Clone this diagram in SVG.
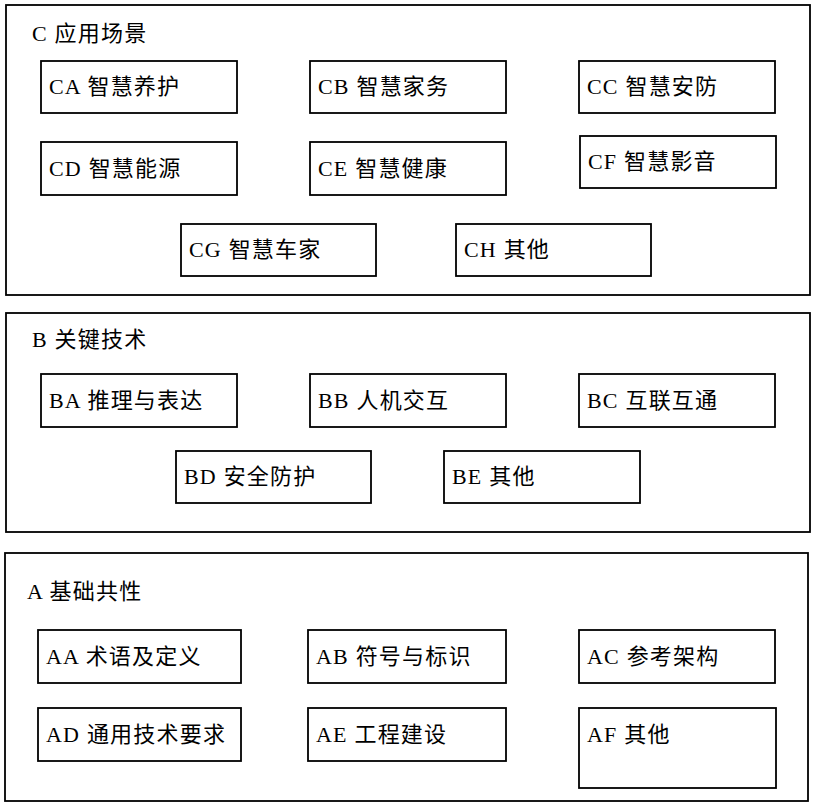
<svg xmlns="http://www.w3.org/2000/svg" width="816" height="807" viewBox="0 0 816 807">
<style>
rect{fill:#fff;stroke:#000;stroke-width:1.8}
text{font-family:"Liberation Serif","Noto Sans CJK SC",serif;font-size:22px;letter-spacing:1.2px;fill:#000}
</style>
<rect x="0" y="0" width="816" height="807" style="stroke:none"/>
<g id="C"><rect x="6" y="5" width="804" height="290"/><text x="32" y="41">C 应用场景</text></g>
<g id="CA"><rect x="41" y="61" width="196" height="52"/><text x="49" y="94">CA 智慧养护</text></g>
<g id="CB"><rect x="310" y="61" width="196" height="52"/><text x="318" y="94">CB 智慧家务</text></g>
<g id="CC"><rect x="579" y="61" width="196" height="52"/><text x="587" y="94">CC 智慧安防</text></g>
<g id="CD"><rect x="41" y="142" width="196" height="53"/><text x="49" y="176">CD 智慧能源</text></g>
<g id="CE"><rect x="310" y="142" width="196" height="53"/><text x="318" y="176">CE 智慧健康</text></g>
<g id="CF"><rect x="580" y="136" width="196" height="52"/><text x="588" y="169">CF 智慧影音</text></g>
<g id="CG"><rect x="181" y="224" width="195" height="52"/><text x="189" y="257">CG 智慧车家</text></g>
<g id="CH"><rect x="456" y="224" width="195" height="52"/><text x="464" y="257">CH  其他</text></g>
<g id="B"><rect x="6" y="313" width="804" height="219"/><text x="32" y="347">B 关键技术</text></g>
<g id="BA"><rect x="41" y="374" width="196" height="53"/><text x="49" y="408">BA 推理与表达</text></g>
<g id="BB"><rect x="310" y="374" width="196" height="53"/><text x="318" y="408">BB 人机交互</text></g>
<g id="BC"><rect x="579" y="374" width="196" height="53"/><text x="587" y="408">BC 互联互通</text></g>
<g id="BD"><rect x="176" y="451" width="195" height="52"/><text x="184" y="484">BD 安全防护</text></g>
<g id="BE"><rect x="444" y="451" width="196" height="52"/><text x="452" y="484">BE 其他</text></g>
<g id="A"><rect x="5" y="553" width="803" height="248"/><text x="27" y="599">A 基础共性</text></g>
<g id="AA"><rect x="38" y="630" width="203" height="53"/><text x="46" y="664">AA 术语及定义</text></g>
<g id="AB"><rect x="308" y="630" width="198" height="53"/><text x="316" y="664">AB 符号与标识</text></g>
<g id="AC"><rect x="579" y="630" width="196" height="53"/><text x="587" y="664">AC 参考架构</text></g>
<g id="AD"><rect x="38" y="708" width="203" height="53"/><text x="46" y="742">AD 通用技术要求</text></g>
<g id="AE"><rect x="308" y="708" width="198" height="53"/><text x="316" y="742">AE 工程建设</text></g>
<g id="AF"><rect x="579" y="708" width="197" height="80"/><text x="587" y="742">AF 其他</text></g>
<g id="connectors"/>
</svg>
